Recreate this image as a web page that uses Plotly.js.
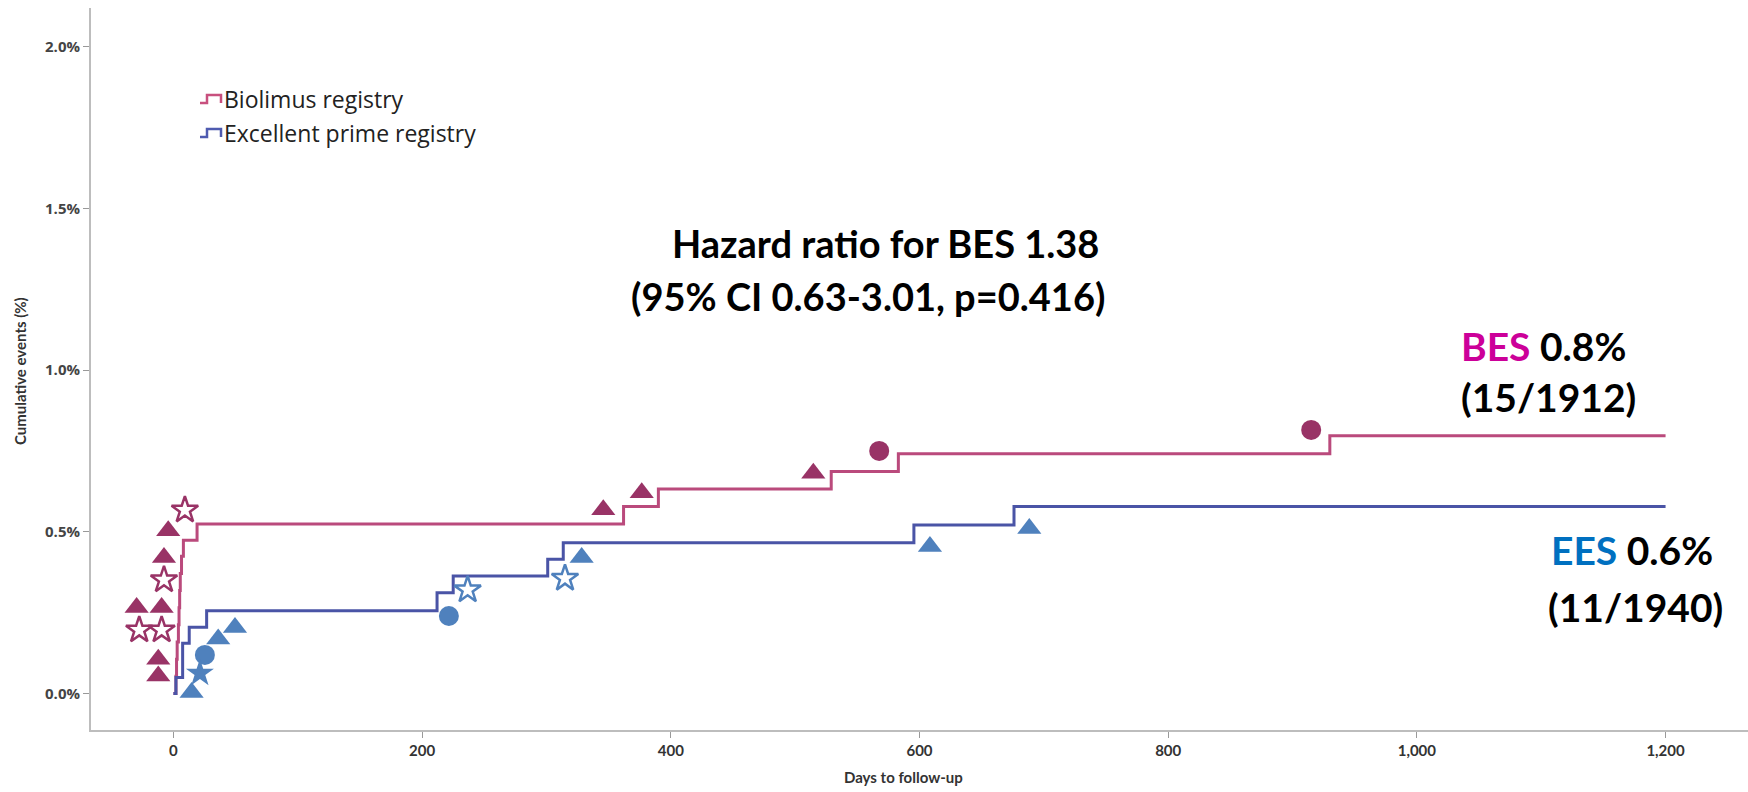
<!DOCTYPE html>
<html>
<head>
<meta charset="utf-8">
<script src="https://cdn.plot.ly/plotly-3.0.1.min.js"></script>
<style>
  html, body { margin: 0; padding: 0; background: #fff; }
  #chart { width: 1748px; height: 792px; }
</style>
</head>
<body>
<div id="chart"></div>
<script>
// ---- Kaplan-Meier step data (days, cumulative %) ----
const redDays = [0, 2, 2.5, 3, 4, 4.5, 5, 5.5, 6.5, 8, 19, 362, 390, 529, 583, 930, 1200];
const redPct  = [0, 0.053, 0.106, 0.159, 0.212, 0.265, 0.318, 0.371, 0.424, 0.474, 0.524, 0.578, 0.632, 0.686, 0.741, 0.797, 0.797];
const blueDays = [0, 2, 7.4, 12.7, 26.7, 212, 225, 301, 313.5, 595.5, 676, 1200];
const bluePct  = [0, 0.049, 0.155, 0.205, 0.256, 0.311, 0.363, 0.415, 0.466, 0.521, 0.578, 0.578];

// ---- event markers ----
const redTriX = [-4.2, -7.6, -29.6, -9.5, -12.2, -12.2, 345.7, 376.6, 514.6];
const redTriY = [0.503, 0.420, 0.266, 0.266, 0.106, 0.054, 0.568, 0.621, 0.681];
const redStarOpenX = [9.2, -7.6, -27.5, -9.5];
const redStarOpenY = [0.567, 0.351, 0.196, 0.196];
const redCircX = [567.6, 915];
const redCircY = [0.750, 0.815];

const blueTriX = [14.6, 36, 49.5, 328.3, 608.4, 688.3];
const blueTriY = [0.003, 0.168, 0.204, 0.420, 0.454, 0.510];
const blueCircX = [25.3, 221.5];
const blueCircY = [0.119, 0.2395];
const blueStarX = [21.3];
const blueStarY = [0.062];
const blueStarOpenX = [236.6, 314.9];
const blueStarOpenY = [0.320, 0.356];

// ---- labels ----
const seriesNames = ['Biolimus registry', 'Excellent prime registry'];
const xTicks = [0, 200, 400, 600, 800, 1000, 1200];
const yTicks = [0, 0.5, 1.0, 1.5, 2.0];
const yTickText = ['0.0%', '0.5%', '1.0%', '1.5%', '2.0%'];

const RED_LINE = '#BA4A7C', BLUE_LINE = '#4A54A6';
const RED_MK = '#993366', BLUE_MK = '#4F81BD';
const FONT = 'Lato, "Open Sans", sans-serif';
const FONT2 = '"Open Sans", Lato, sans-serif';

const traces = [
  {x: redDays, y: redPct, mode: 'lines', line: {shape: 'hv', color: RED_LINE, width: 3}, name: seriesNames[0], hoverinfo: 'x+y'},
  {x: blueDays, y: bluePct, mode: 'lines', line: {shape: 'hv', color: BLUE_LINE, width: 3}, name: seriesNames[1], hoverinfo: 'x+y'},
  {x: redTriX, y: redTriY, mode: 'markers', marker: {symbol: 'triangle-up', size: 21, color: RED_MK}},
  {x: redStarOpenX, y: redStarOpenY, mode: 'markers', marker: {symbol: 'star-open', size: 20, color: RED_MK, line: {width: 2.5, color: RED_MK}}},
  {x: redCircX, y: redCircY, mode: 'markers', marker: {symbol: 'circle', size: 20, color: RED_MK}},
  {x: blueTriX, y: blueTriY, mode: 'markers', marker: {symbol: 'triangle-up', size: 21, color: BLUE_MK}},
  {x: blueCircX, y: blueCircY, mode: 'markers', marker: {symbol: 'circle', size: 20, color: BLUE_MK}},
  {x: blueStarX, y: blueStarY, mode: 'markers', marker: {symbol: 'star', size: 21, color: BLUE_MK}},
  {x: blueStarOpenX, y: blueStarOpenY, mode: 'markers', marker: {symbol: 'star-open', size: 20, color: BLUE_MK, line: {width: 2.5, color: BLUE_MK}}}
];

// pixel -> paper helpers for legend glyphs / titles
const ML = 91, MR = 0, MT = 8, MB = 62, W = 1748, H = 792;
const px = v => (v - ML) / (W - ML - MR);
const py = v => (H - MB - v) / (H - MT - MB);
function stepIcon(x0, yc) {
  const yb = yc + 4, yt = yc - 4;
  return 'M' + px(x0) + ',' + py(yb) + ' L' + px(x0 + 7) + ',' + py(yb) +
         ' L' + px(x0 + 7) + ',' + py(yt) + ' L' + px(x0 + 21) + ',' + py(yt) +
         ' L' + px(x0 + 21) + ',' + py(yb);
}

const layout = {
  width: W, height: H,
  margin: {l: ML, r: MR, t: MT, b: MB},
  paper_bgcolor: '#fff', plot_bgcolor: '#fff',
  showlegend: false,
  font: {family: FONT},
  xaxis: {
    range: [-66.3, 1266.3], tickvals: xTicks, tickformat: ',d',
    showgrid: false, zeroline: false, showline: true, linecolor: '#bdbdbd', linewidth: 2,
    ticks: 'outside', ticklen: 6, tickcolor: '#999', tickwidth: 1,
    tickfont: {family: FONT, size: 15, color: '#333', weight: 'bold'}
  },
  yaxis: {
    range: [-0.1132, 2.12], tickvals: yTicks, ticktext: yTickText,
    showgrid: false, zeroline: false, showline: true, linecolor: '#bdbdbd', linewidth: 2,
    ticks: 'outside', ticklen: 6, tickcolor: '#999', tickwidth: 1,
    ticklabelstandoff: 0,
    tickfont: {family: FONT2, size: 15, color: '#444', weight: 'bold'}
  },
  shapes: [
    {type: 'path', xref: 'paper', yref: 'paper', path: stepIcon(200, 99), line: {color: '#C8507E', width: 2.5}},
    {type: 'path', xref: 'paper', yref: 'paper', path: stepIcon(200, 133), line: {color: '#4F5BB0', width: 2.5}}
  ],
  annotations: [
    {xref: 'paper', yref: 'paper', x: px(222), y: py(99), xanchor: 'left', yanchor: 'middle', showarrow: false,
     text: seriesNames[0], font: {family: FONT2, size: 23, color: '#222'}},
    {xref: 'paper', yref: 'paper', x: px(222), y: py(133), xanchor: 'left', yanchor: 'middle', showarrow: false,
     text: seriesNames[1], font: {family: FONT2, size: 23, color: '#222'}},
    {xref: 'x', yref: 'y', x: 573, y: 1.394, xanchor: 'center', yanchor: 'middle', showarrow: false,
     text: '<b>Hazard ratio for BES 1.38</b>', font: {family: FONT, size: 38, color: '#000'}},
    {xref: 'x', yref: 'y', x: 558.5, y: 1.228, xanchor: 'center', yanchor: 'middle', showarrow: false,
     text: '<b>(95% CI 0.63-3.01, p=0.416)</b>', font: {family: FONT, size: 38, color: '#000'}},
    {xref: 'x', yref: 'y', x: 1034, y: 1.075, xanchor: 'left', yanchor: 'middle', showarrow: false,
     text: '<b><span style="color:#CC0099">BES</span> 0.8%</b>', font: {family: FONT, size: 39, color: '#000'}},
    {xref: 'x', yref: 'y', x: 1034, y: 0.917, xanchor: 'left', yanchor: 'middle', showarrow: false,
     text: '<b>(15/1912)</b>', font: {family: FONT, size: 39, color: '#000'}},
    {xref: 'x', yref: 'y', x: 1106, y: 0.444, xanchor: 'left', yanchor: 'middle', showarrow: false,
     text: '<b><span style="color:#0070C0">EES</span> 0.6%</b>', font: {family: FONT, size: 39, color: '#000'}},
    {xref: 'x', yref: 'y', x: 1104, y: 0.268, xanchor: 'left', yanchor: 'middle', showarrow: false,
     text: '<b>(11/1940)</b>', font: {family: FONT, size: 39, color: '#000'}},
    {xref: 'paper', yref: 'paper', x: px(903), y: py(777), xanchor: 'center', yanchor: 'middle', showarrow: false,
     text: '<b>Days to follow-up</b>', font: {family: FONT, size: 15, color: '#333'}},
    {xref: 'paper', yref: 'paper', x: px(20), y: py(371), xanchor: 'center', yanchor: 'middle', showarrow: false,
     textangle: -90, text: '<b>Cumulative events (%)</b>', font: {family: FONT, size: 15, color: '#333'}}
  ]
};

Plotly.newPlot('chart', traces, layout, {displayModeBar: false, responsive: false});
</script>
</body>
</html>
